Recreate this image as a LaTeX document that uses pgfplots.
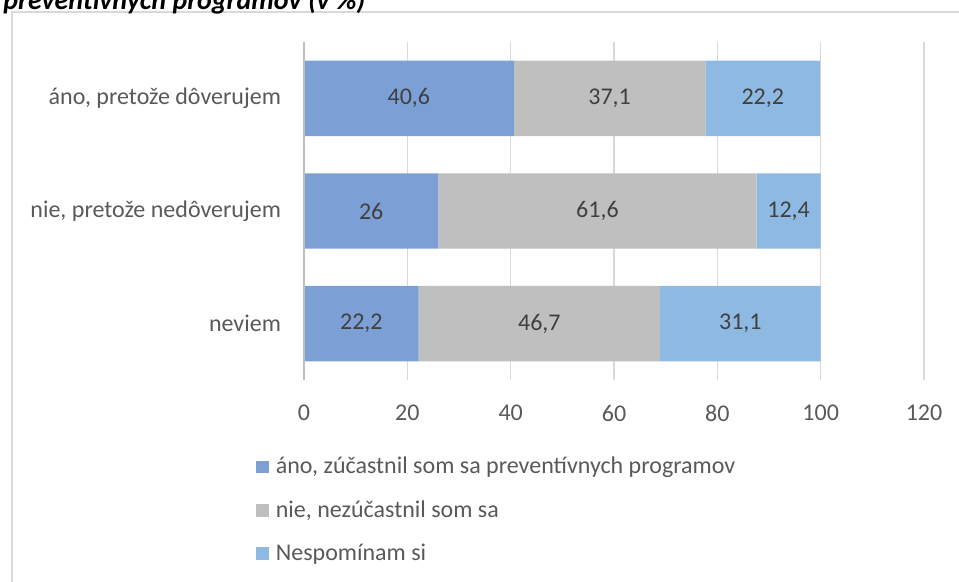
\documentclass[border=0pt]{standalone}
\usepackage{pgfplots}
\pgfplotsset{compat=1.18}
\usepackage{fontspec}
\setmainfont{Carlito}
\definecolor{cA}{RGB}{124,159,214}
\definecolor{cB}{RGB}{191,191,191}
\definecolor{cC}{RGB}{141,185,226}
\definecolor{txt}{RGB}{89,89,89}
\definecolor{lab}{RGB}{64,64,64}
\definecolor{gridc}{RGB}{217,217,217}
\begin{document}
\begin{tikzpicture}
\path[use as bounding box, clip] (0,0) rectangle (479.5pt,-291pt);
\draw[gridc, line width=0.6pt] (6pt,-300pt) -- (6pt,-6pt) -- (490pt,-6pt);
\node[anchor=base west, inner sep=0pt, font=\fontsize{14}{16}\selectfont\bfseries\itshape] at (1.5pt,-4.6pt) {preventívnych programov (v \%)};
\begin{axis}[
  at={(152pt,-190pt)}, anchor=south west,
  scale only axis, width=310pt, height=169pt,
  xbar stacked, bar width=0.67,
  xmin=0, xmax=120, ymin=-0.5, ymax=2.5,
  xtick={0,20,...,120},
  ytick={0,1,2},
  yticklabels={neviem, {nie, pretože nedôverujem}, {áno, pretože dôverujem}},
  major tick length=0pt,
  xmajorgrids=true, ymajorgrids=false,
  major grid style={draw=gridc, line width=0.7pt},
  axis line style={draw=none},
  /pgf/number format/assume math mode=true,
  /pgf/number format/use comma,
  ticklabel style={font=\fontsize{12}{14}\selectfont, text=txt},
  xticklabel style={yshift=-9pt},
  yticklabel style={xshift=-8pt},
  nodes near coords,
  every node near coord/.append style={font=\fontsize{12}{14}\selectfont, text=lab},
  legend style={draw=none, fill=none, at={(-0.0774,-0.221)}, anchor=north west,
    font=\fontsize{12}{14}\selectfont, text=txt, row sep=9.8pt, column sep=2.2pt, inner sep=0pt,
    nodes={inner sep=1pt}},
  legend cell align=left,
  legend image code/.code={\fill[#1,draw=none] (0pt,-3.2pt) rectangle (6.5pt,3.2pt);},
]
\addplot[fill=cA, draw=none] coordinates {(22.2,0) (26,1) (40.6,2)};
\addplot[fill=cB, draw=none] coordinates {(46.7,0) (61.6,1) (37.1,2)};
\addplot[fill=cC, draw=none] coordinates {(31.1,0) (12.4,1) (22.2,2)};
\legend{{áno, zúčastnil som sa preventívnych programov}, {nie, nezúčastnil som sa}, {Nespomínam si}}
\end{axis}
\draw[cB, line width=0.7pt] (152pt,-190pt) -- (152pt,-21pt);
\end{tikzpicture}
\end{document}
